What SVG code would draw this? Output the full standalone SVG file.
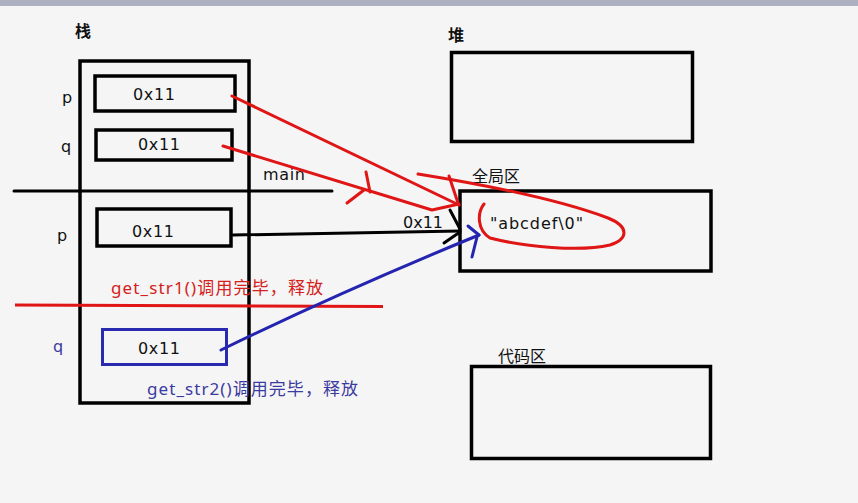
<svg xmlns="http://www.w3.org/2000/svg" width="858" height="503" viewBox="0 0 858 503">
<style>
.bg{fill:#f5f5f5}
.box{fill:none;stroke:#000;stroke-width:3.5}
.t{font-family:"DejaVu Sans","Noto Sans CJK SC",sans-serif;font-size:16px;fill:#111}
.g{font-family:"Noto Sans","Noto Sans CJK SC",sans-serif;font-size:17px}
.cjk{font-family:"Noto Sans CJK SC","Noto Sans",sans-serif;font-size:16px;fill:#111;font-weight:bold}
.red{stroke:#e01515;stroke-width:3;fill:none;stroke-linecap:round;stroke-linejoin:round}
.blk{stroke:#000;stroke-width:3;fill:none;stroke-linecap:round}
.blu{stroke:#2424b0;stroke-width:3;fill:none;stroke-linecap:round;stroke-linejoin:round}
</style>
<rect class="bg" x="0" y="0" width="858" height="503"/>
<rect x="0" y="0" width="858" height="6" fill="#adb0c1"/>

<g id="stack">
  <text class="cjk" x="75" y="37">栈</text>
  <rect class="box" x="80" y="61" width="169" height="342"/>
  <line class="blk" x1="14" y1="191" x2="332" y2="191"/>
  <text class="t" x="263" y="180" textLength="42">main</text>
</g>

<g id="main-p">
  <text class="t" x="62" y="103" font-size="17">p</text>
  <rect class="box" x="95" y="76" width="140" height="35"/>
  <text class="t" x="133" y="100" textLength="42">0x11</text>
</g>
<g id="main-q">
  <text class="t" x="61" y="152" font-size="17">q</text>
  <rect class="box" x="96" y="130" width="136" height="30"/>
  <text class="t" x="138" y="150" textLength="42">0x11</text>
</g>
<g id="str1-p">
  <text class="t" x="57" y="241" font-size="17">p</text>
  <rect class="box" x="97" y="209" width="134" height="37"/>
  <text class="t" x="132" y="237" textLength="42">0x11</text>
  <line x1="15" y1="305" x2="383" y2="306.5" stroke="#e01515" stroke-width="3"/>
  <text class="g" x="111" y="294" fill="#d42020" textLength="212">get_str1()调用完毕，释放</text>
</g>
<g id="str2-q">
  <text class="t" x="53" y="352" font-size="17" style="fill:#3a3aa0">q</text>
  <rect x="102.5" y="329.5" width="124" height="35" fill="none" stroke="#2a2ab0" stroke-width="3"/>
  <text class="t" x="138" y="354" textLength="42">0x11</text>
  <text class="g" x="147" y="395" fill="#3a3aa0" textLength="211">get_str2()调用完毕，释放</text>
</g>

<g id="heap">
  <text class="cjk" x="448" y="41">堆</text>
  <rect class="box" x="451.5" y="52.5" width="241" height="89"/>
</g>
<g id="global">
  <text class="cjk" x="472" y="182" font-size="17" style="font-weight:normal">全局区</text>
  <rect class="box" x="460" y="191" width="251" height="80"/>
  <text class="t" x="490" y="229" textLength="93">"abcdef\0"</text>
</g>
<g id="code">
  <text class="cjk" x="498" y="362" font-size="17" style="font-weight:normal">代码区</text>
  <rect class="box" x="471.5" y="366.5" width="239" height="92"/>
</g>

<g id="connectors">
  <path class="red" d="M232,96 L459,205"/>
  <path class="red" d="M449,176 L458,203"/>
  <path class="red" d="M223,146 L432,210 L459,204"/>
  <path class="red" d="M366,172 L370,192"/>
  <path class="red" d="M347,203 L364,190"/>
  <path class="red" d="M418,174 C480,184 560,200 608,218 C630,227 628,239 610,245 C580,252 525,247 490,238 C477,230 477,213 484,204"/>
  <path class="blk" d="M233,235 L460,231"/>
  <path class="blk" d="M450,210 L460,229"/>
  <path class="blk" d="M444,243 L460,232"/>
  <text class="t" x="403" y="228" textLength="40">0x11</text>
  <path class="blu" d="M221,350 Q340,292 479,235"/>
  <path class="blu" d="M468,226 L479,235"/>
  <path class="blu" d="M472,257 L477,237"/>
</g>
</svg>
